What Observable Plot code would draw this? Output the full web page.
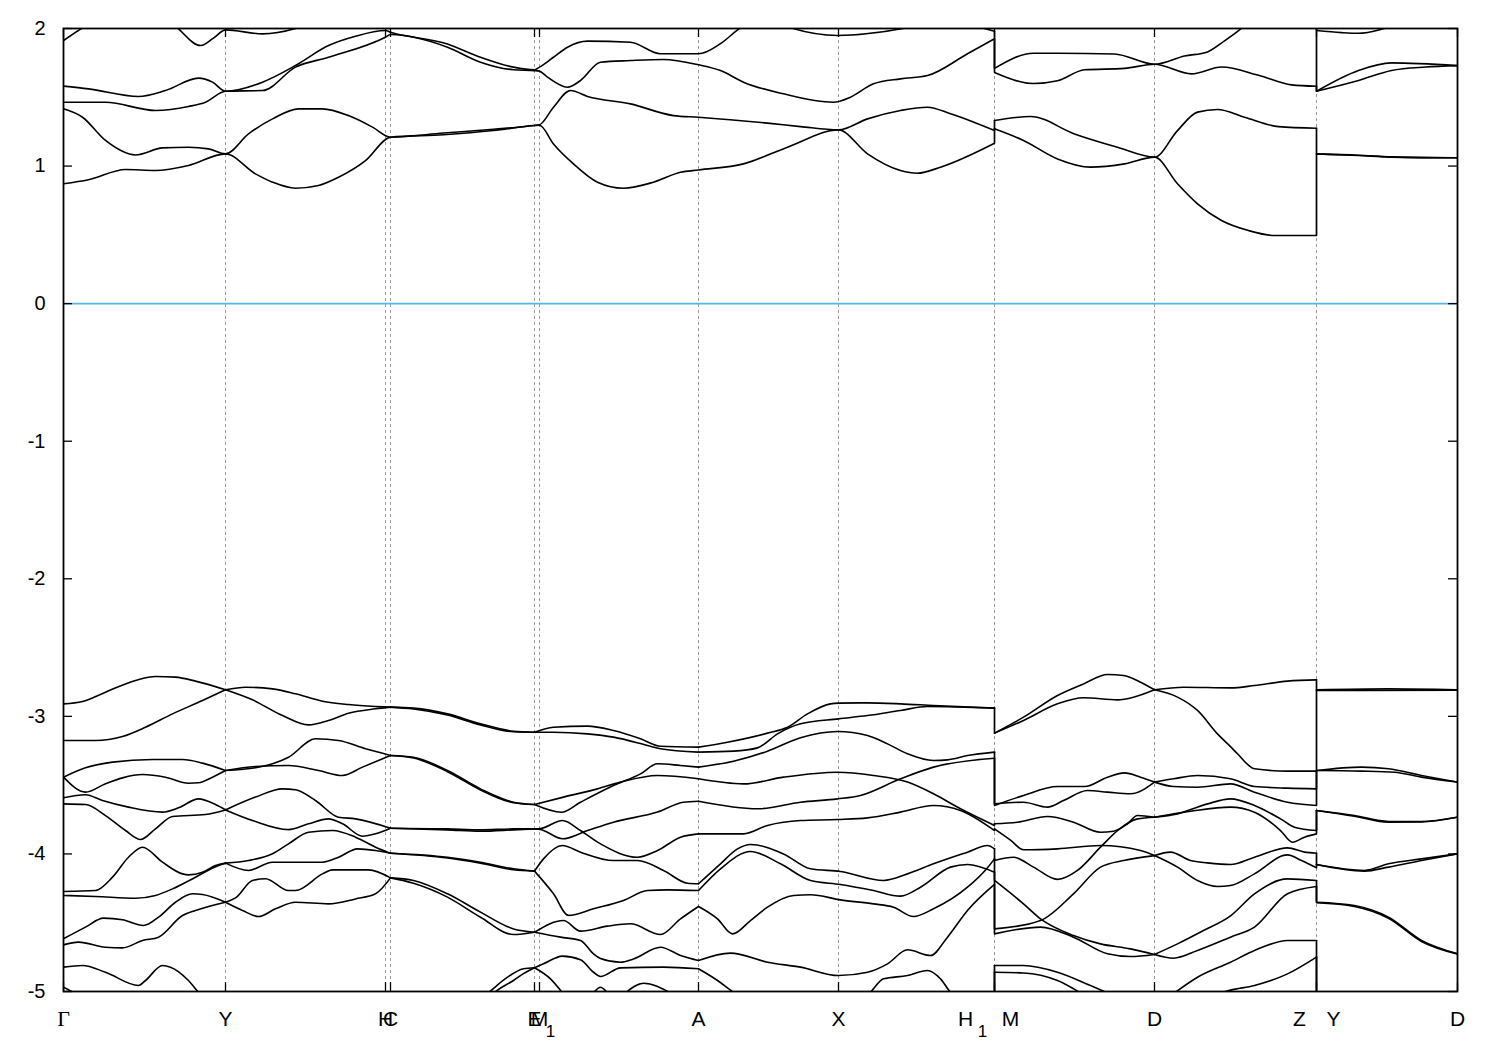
<!DOCTYPE html>
<html>
<head>
<meta charset="utf-8">
<script src="https://cdn.jsdelivr.net/npm/d3@7"></script>
<script src="https://cdn.jsdelivr.net/npm/@observablehq/plot@0.6"></script>
<style>
  body { margin: 0; background: white; }
  #chart svg { display: block; }
</style>
</head>
<body>
<div id="chart"></div>
<script>
// ---------- k-path ticks (path distance units) ----------
const kTicks = [0, 162, 322, 327, 471, 476, 635, 775, 931, 1091, 1253, 1394];
const kBreakH1M = 931;
const kBreakZY = 1253;
const yTicks = [-5, -4, -3, -2, -1, 0, 1, 2];

// ---------- conduction bands ----------
// Γ → H1
const condGH = [
  [[0,0.871],[25,0.900],[62,0.975],[92,0.968],[125,1.004],[162,1.089],[192,0.943],[209,0.883],[232,0.839],[255,0.859],[275,0.919],[302,1.040],[327,1.210],[380,1.228],[430,1.258],[471,1.295],[476,1.297],[490,1.161],[510,1.016],[534,0.883],[560,0.839],[590,0.883],[617,0.955],[635,0.972],[680,1.016],[724,1.137],[775,1.263],[804,1.089],[837,0.968],[854,0.948],[877,0.992],[931,1.166]],
  [[0,1.416],[19,1.355],[42,1.186],[72,1.081],[99,1.132],[125,1.137],[145,1.125],[162,1.089],[185,1.234],[209,1.343],[235,1.416],[259,1.416],[285,1.367],[309,1.283],[327,1.210],[380,1.240],[430,1.268],[471,1.295],[476,1.300],[490,1.428],[507,1.549],[524,1.506],[567,1.452],[610,1.367],[635,1.355],[704,1.312],[737,1.287],[775,1.263],[804,1.343],[837,1.404],[864,1.428],[887,1.380],[931,1.258]],
  [[0,1.464],[42,1.464],[92,1.404],[125,1.433],[142,1.464],[162,1.544],[199,1.549],[232,1.719],[265,1.791],[322,1.937],[327,1.956],[384,1.864],[417,1.755],[450,1.700],[471,1.694],[476,1.690],[484,1.646],[504,1.573],[517,1.622],[537,1.755],[567,1.767],[600,1.775],[635,1.736],[657,1.694],[680,1.610],[720,1.525],[770,1.464],[787,1.501],[810,1.598],[837,1.634],[864,1.658],[904,1.816],[931,1.925]],
  [[0,1.581],[25,1.561],[75,1.506],[102,1.549],[135,1.639],[149,1.610],[162,1.544],[199,1.610],[232,1.731],[265,1.876],[292,1.944],[322,1.985],[327,1.973],[384,1.888],[417,1.791],[450,1.719],[471,1.700],[476,1.719],[490,1.791],[504,1.864],[524,1.908],[567,1.900],[597,1.816],[635,1.816],[657,1.890],[677,2.005],[700,2.080],[727,2.005],[774,1.949],[844,2.005],[880,2.060],[910,2.020],[931,1.980]],
  [[0,1.913],[19,2.005],[40,2.100],[100,2.100],[114,2.005],[137,1.876],[150,1.930],[162,1.990],[199,1.961],[232,2.000],[260,2.080],[300,2.100],[931,2.150]]
];
// M → Z
const condMZ = [
  [[931,1.271],[960,1.186],[994,1.052],[1027,0.992],[1061,1.016],[1091,1.065],[1114,0.871],[1134,0.725],[1158,0.604],[1185,0.531],[1211,0.495],[1253,0.495]],
  [[931,1.331],[967,1.360],[1011,1.234],[1054,1.137],[1091,1.065],[1114,1.258],[1134,1.392],[1154,1.411],[1181,1.355],[1215,1.287],[1253,1.275]],
  [[931,1.680],[970,1.600],[994,1.620],[1021,1.700],[1061,1.710],[1091,1.740],[1128,1.670],[1158,1.720],[1195,1.660],[1228,1.590],[1253,1.580]],
  [[931,1.710],[970,1.820],[994,1.820],[1051,1.815],[1091,1.740],[1121,1.800],[1144,1.830],[1161,1.910],[1176,1.990],[1190,2.080],[1253,2.150]]
];
// Y → D
const condYD = [
  [[1253,1.089],[1295,1.077],[1328,1.065],[1394,1.060]],
  [[1253,1.089],[1295,1.079],[1328,1.067],[1394,1.060]],
  [[1253,1.544],[1295,1.622],[1328,1.695],[1362,1.720],[1394,1.730]],
  [[1253,1.544],[1295,1.695],[1328,1.750],[1394,1.730]],
  [[1253,1.985],[1278,1.970],[1295,1.965],[1318,1.995],[1340,2.050],[1394,2.100]]
];

// ---------- valence bands, per path segment ----------
const valGY = [
  [[0,-2.909],[19,-2.892],[42,-2.824],[72,-2.739],[92,-2.710],[112,-2.715],[132,-2.744],[162,-2.807]],
  [[0,-3.175],[32,-3.175],[59,-3.146],[82,-3.079],[109,-2.982],[139,-2.885],[162,-2.807]],
  [[0,-3.442],[22,-3.374],[49,-3.333],[89,-3.314],[119,-3.314],[139,-3.340],[162,-3.394]],
  [[0,-3.442],[22,-3.551],[42,-3.490],[59,-3.447],[79,-3.423],[102,-3.442],[125,-3.486],[135,-3.483],[149,-3.442],[162,-3.394]],
  [[0,-3.592],[22,-3.570],[39,-3.612],[65,-3.660],[99,-3.696],[115,-3.665],[135,-3.600],[152,-3.641],[162,-3.680]],
  [[0,-3.636],[22,-3.641],[42,-3.721],[62,-3.830],[77,-3.895],[92,-3.818],[109,-3.728],[142,-3.713],[162,-3.680]],
  [[0,-4.273],[32,-4.266],[49,-4.169],[65,-4.024],[79,-3.951],[99,-4.060],[119,-4.145],[125,-4.152],[139,-4.133],[152,-4.084],[162,-4.067]],
  [[0,-4.302],[32,-4.309],[72,-4.322],[92,-4.302],[109,-4.254],[132,-4.169],[155,-4.084],[162,-4.067]],
  [[0,-4.617],[22,-4.532],[40,-4.467],[59,-4.479],[80,-4.520],[95,-4.460],[112,-4.351],[129,-4.290],[139,-4.295],[162,-4.351]],
  [[0,-4.661],[15,-4.641],[42,-4.678],[59,-4.683],[79,-4.629],[95,-4.605],[119,-4.448],[132,-4.411],[162,-4.351]],
  [[0,-4.823],[19,-4.811],[42,-4.860],[75,-4.956],[82,-4.920],[99,-4.811],[107,-4.823],[125,-4.920],[135,-5.005],[142,-5.040]],
  [[0,-4.969],[9,-5.005],[15,-5.040]]
];
const valYC = [
  [[162,-2.807],[182,-2.788],[209,-2.800],[232,-2.836],[259,-2.890],[285,-2.914],[312,-2.928],[327,-2.933]],
  [[162,-2.807],[189,-2.880],[219,-2.994],[245,-3.062],[265,-3.030],[285,-2.977],[312,-2.945],[327,-2.933]],
  [[162,-3.394],[192,-3.374],[209,-3.345],[225,-3.297],[252,-3.163],[275,-3.175],[302,-3.236],[327,-3.284]],
  [[162,-3.394],[192,-3.365],[225,-3.357],[255,-3.394],[279,-3.430],[299,-3.369],[327,-3.284]],
  [[162,-3.680],[192,-3.587],[219,-3.527],[232,-3.534],[252,-3.612],[275,-3.733],[292,-3.745],[327,-3.813]],
  [[162,-3.680],[189,-3.757],[225,-3.823],[245,-3.781],[265,-3.745],[279,-3.781],[299,-3.871],[312,-3.854],[327,-3.813]],
  [[162,-4.067],[185,-4.048],[209,-3.999],[225,-3.927],[245,-3.842],[269,-3.830],[292,-3.878],[312,-3.951],[327,-3.995]],
  [[162,-4.067],[185,-4.120],[209,-4.060],[259,-4.060],[275,-4.024],[294,-3.963],[312,-3.975],[327,-3.995]],
  [[162,-4.351],[172,-4.320],[189,-4.193],[202,-4.180],[225,-4.266],[232,-4.266],[259,-4.145],[269,-4.116],[305,-4.116],[327,-4.174]],
  [[162,-4.351],[179,-4.411],[195,-4.455],[212,-4.399],[232,-4.351],[265,-4.363],[292,-4.327],[312,-4.290],[327,-4.174]]
];
const valCE = [
  [[327,-2.933],[350,-2.940],[384,-2.982],[417,-3.054],[450,-3.108],[471,-3.115]],
  [[327,-2.933],[350,-2.946],[384,-2.990],[417,-3.062],[450,-3.112],[471,-3.115]],
  [[327,-3.284],[350,-3.297],[384,-3.394],[417,-3.527],[450,-3.624],[471,-3.641]],
  [[327,-3.284],[350,-3.302],[384,-3.402],[417,-3.535],[450,-3.628],[471,-3.641]],
  [[327,-3.813],[384,-3.818],[417,-3.825],[450,-3.818],[471,-3.818]],
  [[327,-3.813],[384,-3.825],[417,-3.835],[450,-3.825],[471,-3.818]],
  [[327,-3.995],[384,-4.024],[417,-4.060],[450,-4.108],[471,-4.125]],
  [[327,-3.995],[384,-4.030],[417,-4.068],[450,-4.115],[471,-4.125]],
  [[327,-4.174],[350,-4.193],[384,-4.290],[417,-4.423],[450,-4.545],[471,-4.569]],
  [[327,-4.174],[350,-4.213],[384,-4.314],[417,-4.460],[450,-4.586],[471,-4.569]],
  [[420,-5.040],[428,-4.990],[444,-4.896],[460,-4.835],[471,-4.827]],
  [[427,-5.030],[434,-4.990],[450,-4.920],[460,-4.870],[471,-4.827]]
];
const valMA = [
  [[471,-3.115],[490,-3.079],[524,-3.071],[550,-3.103],[577,-3.163],[597,-3.217],[635,-3.224]],
  [[471,-3.115],[490,-3.115],[524,-3.127],[550,-3.151],[584,-3.212],[597,-3.236],[635,-3.260]],
  [[471,-3.641],[498,-3.697],[517,-3.624],[550,-3.503],[577,-3.418],[594,-3.345],[617,-3.357],[635,-3.369]],
  [[471,-3.641],[500,-3.587],[534,-3.527],[557,-3.478],[594,-3.430],[635,-3.454]],
  [[471,-3.818],[477,-3.816],[499,-3.757],[517,-3.830],[537,-3.927],[574,-4.024],[594,-3.975],[617,-3.878],[635,-3.854]],
  [[471,-3.818],[477,-3.822],[499,-3.890],[524,-3.830],[550,-3.769],[594,-3.696],[620,-3.624],[635,-3.617]],
  [[471,-4.125],[480,-4.036],[499,-3.939],[517,-3.987],[550,-4.048],[574,-4.048],[600,-4.120],[624,-4.213],[635,-4.217]],
  [[471,-4.125],[490,-4.290],[505,-4.447],[530,-4.399],[560,-4.338],[584,-4.266],[604,-4.261],[635,-4.266]],
  [[471,-4.569],[500,-4.484],[517,-4.561],[544,-4.525],[567,-4.508],[597,-4.586],[617,-4.472],[635,-4.382]],
  [[471,-4.569],[497,-4.605],[517,-4.629],[530,-4.726],[537,-4.760],[557,-4.787],[570,-4.763],[597,-4.678],[617,-4.738],[635,-4.775]],
  [[471,-4.827],[480,-4.799],[499,-4.743],[517,-4.770],[530,-4.860],[537,-4.891],[557,-4.828],[600,-4.823],[635,-4.835]],
  [[471,-4.827],[487,-4.908],[499,-5.010]],
  [[530,-5.010],[537,-4.969],[544,-5.010]],
  [[562,-5.010],[580,-4.940],[607,-5.010]]
];
const valAH = [
  [[635,-3.224],[664,-3.188],[704,-3.122],[724,-3.079],[744,-2.982],[767,-2.909],[775,-2.904],[804,-2.902],[837,-2.909],[870,-2.921],[931,-2.940]],
  [[635,-3.260],[670,-3.253],[694,-3.229],[714,-3.127],[737,-3.054],[775,-3.018],[804,-2.994],[837,-2.957],[864,-2.928],[931,-2.940]],
  [[635,-3.369],[670,-3.326],[704,-3.253],[737,-3.156],[774,-3.110],[804,-3.139],[824,-3.200],[844,-3.272],[870,-3.321],[884,-3.316],[904,-3.285],[931,-3.260]],
  [[635,-3.454],[680,-3.491],[720,-3.442],[774,-3.406],[810,-3.430],[844,-3.478],[870,-3.563],[897,-3.672],[931,-3.793]],
  [[635,-3.617],[694,-3.672],[737,-3.624],[774,-3.600],[797,-3.575],[837,-3.454],[870,-3.369],[931,-3.304]],
  [[635,-3.854],[680,-3.854],[704,-3.793],[737,-3.757],[774,-3.750],[804,-3.738],[837,-3.696],[870,-3.648],[897,-3.684],[931,-3.830]],
  [[635,-4.217],[657,-4.072],[674,-3.963],[687,-3.931],[720,-4.000],[747,-4.108],[777,-4.128],[820,-4.193],[844,-4.145],[870,-4.072],[904,-3.987],[924,-3.939],[931,-3.963]],
  [[635,-4.266],[657,-4.108],[687,-3.982],[717,-4.072],[747,-4.193],[777,-4.222],[810,-4.266],[837,-4.307],[857,-4.242],[887,-4.096],[904,-4.077],[931,-4.133]],
  [[635,-4.382],[654,-4.472],[669,-4.581],[687,-4.484],[704,-4.387],[730,-4.302],[747,-4.297],[777,-4.334],[810,-4.363],[830,-4.387],[850,-4.455],[870,-4.399],[904,-4.242],[924,-4.100],[931,-4.036]],
  [[635,-4.775],[667,-4.721],[704,-4.787],[737,-4.823],[775,-4.884],[804,-4.860],[824,-4.799],[844,-4.697],[867,-4.738],[884,-4.605],[904,-4.411],[931,-4.222]],
  [[635,-4.835],[654,-4.920],[670,-5.005],[680,-5.050]],
  [[800,-5.050],[807,-5.005],[820,-4.908],[844,-4.884],[864,-4.847],[877,-4.908],[887,-5.005],[895,-5.050]]
];
const valMD = [
  [[931,-3.122],[960,-3.006],[994,-2.848],[1020,-2.764],[1044,-2.696],[1060,-2.703],[1077,-2.752],[1091,-2.807]],
  [[931,-3.122],[960,-3.030],[994,-2.909],[1020,-2.865],[1054,-2.880],[1070,-2.861],[1091,-2.807]],
  [[931,-3.648],[960,-3.575],[994,-3.510],[1021,-3.510],[1044,-3.442],[1061,-3.411],[1077,-3.442],[1091,-3.478]],
  [[931,-3.636],[960,-3.624],[984,-3.660],[1000,-3.612],[1024,-3.539],[1044,-3.551],[1067,-3.563],[1091,-3.478]],
  [[931,-3.781],[954,-3.770],[984,-3.728],[1010,-3.769],[1037,-3.842],[1050,-3.835],[1064,-3.781],[1074,-3.721],[1091,-3.733]],
  [[931,-3.818],[947,-3.900],[960,-3.970],[994,-3.963],[1037,-3.939],[1077,-3.975],[1091,-4.012]],
  [[931,-4.048],[950,-4.024],[970,-4.096],[994,-4.185],[1014,-4.120],[1037,-3.951],[1054,-3.830],[1074,-3.745],[1091,-3.733]],
  [[931,-4.193],[960,-4.363],[977,-4.472],[1010,-4.593],[1037,-4.654],[1067,-4.690],[1091,-4.731]],
  [[931,-4.545],[977,-4.484],[1010,-4.290],[1037,-4.096],[1060,-4.048],[1091,-4.012]],
  [[931,-4.581],[977,-4.532],[1010,-4.605],[1044,-4.726],[1067,-4.746],[1091,-4.731]],
  [[931,-4.811],[960,-4.811],[994,-4.860],[1027,-4.957],[1044,-5.010]],
  [[931,-4.860],[960,-4.865],[994,-4.920],[1017,-5.010]]
];
const valDZ = [
  [[1091,-2.807],[1120,-2.788],[1167,-2.793],[1191,-2.776],[1224,-2.744],[1253,-2.735]],
  [[1091,-2.807],[1114,-2.860],[1134,-2.957],[1154,-3.127],[1167,-3.220],[1174,-3.272],[1191,-3.381],[1224,-3.398],[1253,-3.398]],
  [[1091,-3.478],[1110,-3.454],[1134,-3.430],[1167,-3.454],[1191,-3.510],[1224,-3.522],[1253,-3.527]],
  [[1091,-3.478],[1110,-3.510],[1134,-3.515],[1167,-3.491],[1191,-3.551],[1224,-3.624],[1253,-3.648]],
  [[1091,-3.733],[1114,-3.709],[1144,-3.636],[1167,-3.600],[1191,-3.648],[1217,-3.745],[1231,-3.806],[1253,-3.830]],
  [[1091,-3.733],[1127,-3.690],[1167,-3.660],[1191,-3.697],[1217,-3.830],[1229,-3.915],[1241,-3.878],[1253,-3.854]],
  [[1091,-4.012],[1107,-3.987],[1127,-4.048],[1144,-4.065],[1167,-4.077],[1191,-4.024],[1224,-3.956],[1241,-3.987],[1253,-3.995]],
  [[1091,-4.012],[1114,-4.096],[1134,-4.193],[1154,-4.237],[1167,-4.230],[1191,-4.145],[1224,-4.007],[1238,-4.048],[1253,-4.101]],
  [[1091,-4.731],[1114,-4.654],[1140,-4.557],[1167,-4.450],[1191,-4.290],[1224,-4.181],[1253,-4.193]],
  [[1091,-4.731],[1110,-4.758],[1134,-4.702],[1167,-4.605],[1191,-4.532],[1224,-4.290],[1253,-4.237]],
  [[1111,-5.010],[1134,-4.896],[1167,-4.787],[1191,-4.702],[1224,-4.629],[1253,-4.629]],
  [[1157,-5.010],[1167,-4.990],[1191,-4.956],[1224,-4.872],[1253,-4.750]]
];
const valYD = [
  [[1253,-2.807],[1325,-2.800],[1394,-2.807]],
  [[1253,-2.812],[1298,-2.812],[1394,-2.810]],
  [[1253,-3.394],[1298,-3.369],[1325,-3.381],[1358,-3.430],[1394,-3.478]],
  [[1253,-3.394],[1298,-3.398],[1331,-3.406],[1358,-3.442],[1394,-3.478]],
  [[1253,-3.684],[1291,-3.721],[1325,-3.764],[1358,-3.764],[1394,-3.733]],
  [[1253,-3.684],[1291,-3.726],[1325,-3.770],[1358,-3.768],[1394,-3.733]],
  [[1253,-4.077],[1301,-4.120],[1325,-4.072],[1358,-4.036],[1394,-3.999]],
  [[1253,-4.077],[1301,-4.125],[1325,-4.096],[1358,-4.048],[1394,-3.999]],
  [[1253,-4.351],[1291,-4.375],[1325,-4.460],[1358,-4.629],[1394,-4.726]],
  [[1253,-4.355],[1291,-4.382],[1325,-4.468],[1358,-4.636],[1394,-4.728]]
];

// ---------- band values on both sides of the path breaks ----------
const jumpH1M = [
  [1.166,1.271],[1.258,1.331],[1.925,1.680],[1.980,1.710],
  [-2.940,-3.122],[-3.260,-3.636],[-3.304,-3.648],[-3.793,-3.781],[-3.830,-3.818],
  [-3.963,-4.048],[-4.036,-4.193],[-4.133,-4.545],[-4.222,-4.581],[-5.100,-4.811],[-5.100,-4.860]
];
const jumpZY = [
  [0.495,1.089],[1.275,1.089],[1.580,1.544],[2.150,1.544],[2.150,1.985],
  [-2.735,-2.807],[-3.398,-2.807],[-3.527,-3.394],[-3.648,-3.394],[-3.830,-3.684],[-3.854,-3.684],
  [-3.995,-4.077],[-4.101,-4.077],[-4.193,-4.351],[-4.237,-4.351],[-4.629,-5.100],[-4.750,-5.100]
];

// ---------- tick labels ----------
const labelsMain = [
  {k:162,t:"Y"},{k:322,t:"H"},{k:327,t:"C"},{k:471,t:"E"},{k:476,t:"M"},
  {k:635,t:"A"},{k:775,t:"X"},{k:1091,t:"D"},{k:1394,t:"D"}
];
const labelGamma = [{k:0,t:"Γ"}];

// ---------- build ----------
const W = 1500, H = 1050;
const mL = 63, mR = 43, mT = 28, mB = 59;
const innerW = W - mL - mR, innerH = H - mT - mB;

function flat(groups) {
  const out = [];
  groups.forEach((threads, g) => threads.forEach((t, i) =>
    t.forEach(([k, e]) => out.push({k, e, id: g + "-" + i}))));
  return out;
}
const bandData = flat([condGH, condMZ, condYD, valGY, valYC, valCE, valMA, valAH, valMD, valDZ, valYD]);

const lineStyle = {x: "k", y: "e", z: "id", stroke: "black", strokeWidth: 1.6, curve: "monotone-x", clip: true};
const textFont = "'Liberation Sans', Arial, Helvetica, sans-serif";
const labDy = 34, subDy = 45;

const chart = Plot.plot({
  width: W, height: H,
  marginLeft: mL, marginRight: mR, marginTop: mT, marginBottom: mB,
  style: {fontFamily: textFont, fontSize: "20px", background: "white", color: "black"},
  x: {domain: [0, 1394], axis: null},
  y: {domain: [-5, 2], axis: null},
  marks: [
    Plot.ruleX(kTicks.slice(1, -1), {stroke: "#9a9a9a", strokeWidth: 1, strokeDasharray: "3,3"}),
    Plot.ruleY([0], {stroke: "#56b4e9", strokeWidth: 1.6}),
    Plot.line(bandData, lineStyle),
    Plot.ruleX(jumpH1M, {x: () => kBreakH1M, y1: d => d[0], y2: d => d[1], stroke: "black", strokeWidth: 1.7, clip: true}),
    Plot.ruleX(jumpZY, {x: () => kBreakZY, y1: d => d[0], y2: d => d[1], stroke: "black", strokeWidth: 1.7, clip: true}),
    // inner tick marks
    Plot.tickY(yTicks, {y: d => d, insetRight: innerW - 9, stroke: "black", strokeWidth: 1.3}),
    Plot.tickY(yTicks, {y: d => d, insetLeft: innerW - 9, stroke: "black", strokeWidth: 1.3}),
    Plot.tickX(kTicks, {x: d => d, insetBottom: innerH - 9, stroke: "black", strokeWidth: 1.3}),
    Plot.tickX(kTicks, {x: d => d, insetTop: innerH - 9, stroke: "black", strokeWidth: 1.3}),
    Plot.frame({stroke: "black", strokeWidth: 1.8}),
    Plot.axisY(yTicks, {tickSize: 0, tickPadding: 18, tickFormat: d => String(d), fontSize: 20, label: null}),
    // x labels
    Plot.text(labelsMain, {x: "k", text: "t", frameAnchor: "bottom", dy: labDy, fontSize: 21}),
    Plot.text(labelGamma, {x: "k", text: "t", frameAnchor: "bottom", dy: labDy, fontSize: 22, fontFamily: "'Liberation Serif', 'DejaVu Serif', serif"}),
    Plot.text([{k:476,t:"1"}], {x: "k", text: "t", frameAnchor: "bottom", dx: 11, dy: subDy, fontSize: 17}),
    Plot.text([{k:kBreakH1M,t:"H"}], {x: "k", text: "t", frameAnchor: "bottom", dx: -29, dy: labDy, fontSize: 21}),
    Plot.text([{k:kBreakH1M,t:"1"}], {x: "k", text: "t", frameAnchor: "bottom", dx: -12, dy: subDy, fontSize: 17}),
    Plot.text([{k:kBreakH1M,t:"M"}], {x: "k", text: "t", frameAnchor: "bottom", dx: 16, dy: labDy, fontSize: 21}),
    Plot.text([{k:kBreakZY,t:"Z"}], {x: "k", text: "t", frameAnchor: "bottom", dx: -17, dy: labDy, fontSize: 21}),
    Plot.text([{k:kBreakZY,t:"Y"}], {x: "k", text: "t", frameAnchor: "bottom", dx: 17, dy: labDy, fontSize: 21})
  ]
});
document.getElementById("chart").appendChild(chart);
</script>
</body>
</html>
